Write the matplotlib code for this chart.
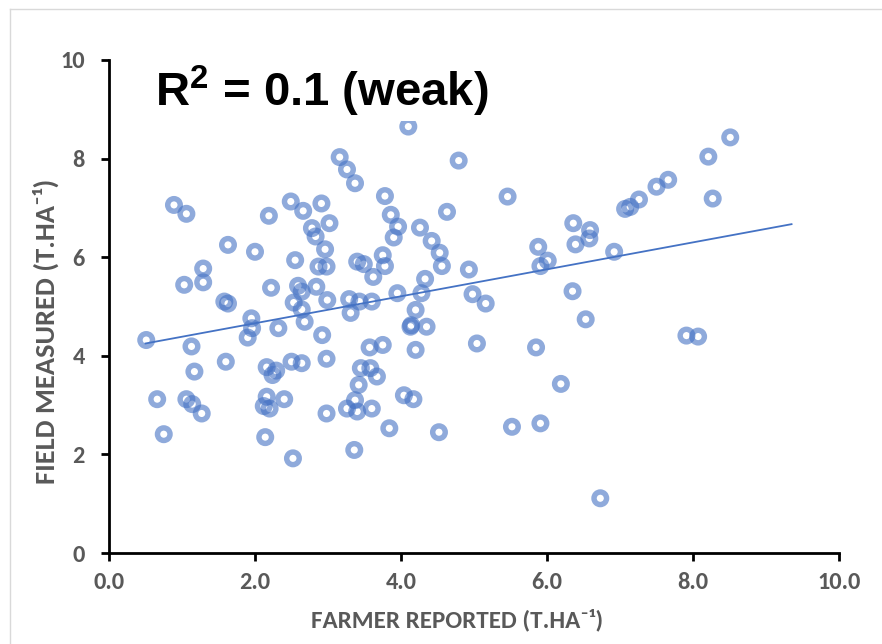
import matplotlib.pyplot as plt
from matplotlib.lines import Line2D

# farmer reported yield (t/ha) vs field measured yield (t/ha)
farmer_reported = [
    3.16, 3.26, 3.37, 0.89, 1.06, 2.49, 2.66, 2.91, 2.19, 3.02,
    2.78, 2.83, 2.96, 1.63, 2.00, 2.55, 2.87, 2.98, 1.29, 1.03,
    1.29, 2.22, 2.59, 2.64, 2.84, 2.53, 2.64, 1.58, 1.63, 2.99,
    3.29, 3.31, 1.95, 0.51, 1.96, 1.90, 2.32, 2.68, 2.92, 1.13,
    1.60, 1.17, 2.16, 2.29, 2.24, 2.50, 2.64, 2.98, 3.45, 3.42,
    0.66, 1.06, 1.14, 1.27, 2.16, 2.12, 2.20, 2.40, 2.98, 3.26,
    3.37, 3.40, 0.75, 2.14, 2.52, 3.36, 4.10, 4.79, 5.46, 3.78,
    4.63, 3.86, 3.96, 3.90, 4.26, 4.42, 4.53, 4.56, 4.93, 3.40,
    3.49, 3.75, 3.78, 3.62, 6.36, 6.59, 6.58, 6.39, 5.88, 6.01,
    5.91, 6.35, 6.53, 4.33, 4.28, 3.95, 3.60, 3.43, 4.98, 5.16,
    4.20, 4.14, 4.35, 4.13, 4.20, 5.04, 5.85, 3.57, 3.75, 3.58,
    3.67, 4.04, 4.17, 6.19, 3.84, 4.52, 5.52, 5.91, 6.73, 8.51,
    8.21, 8.27, 7.66, 7.50, 7.26, 7.14, 7.07, 6.92, 7.91, 8.07,
    3.60,
]
field_measured = [
    8.03, 7.78, 7.50, 7.06, 6.88, 7.13, 6.94, 7.09, 6.84, 6.69,
    6.59, 6.42, 6.16, 6.25, 6.11, 5.94, 5.81, 5.81, 5.77, 5.44,
    5.49, 5.38, 5.42, 5.30, 5.40, 5.08, 4.94, 5.10, 5.06, 5.13,
    5.15, 4.87, 4.76, 4.32, 4.56, 4.37, 4.56, 4.69, 4.42, 4.19,
    3.88, 3.68, 3.77, 3.70, 3.61, 3.88, 3.85, 3.94, 3.75, 3.41,
    3.12, 3.12, 3.02, 2.83, 3.17, 2.98, 2.93, 3.12, 2.83, 2.93,
    3.10, 2.87, 2.41, 2.35, 1.92, 2.09, 8.65, 7.96, 7.23, 7.24,
    6.92, 6.86, 6.62, 6.40, 6.60, 6.33, 6.09, 5.82, 5.75, 5.91,
    5.86, 6.04, 5.82, 5.60, 6.69, 6.55, 6.38, 6.26, 6.21, 5.93,
    5.82, 5.31, 4.74, 5.56, 5.27, 5.27, 5.10, 5.10, 5.25, 5.06,
    4.93, 4.62, 4.59, 4.59, 4.12, 4.25, 4.17, 4.17, 4.22, 3.75,
    3.58, 3.20, 3.12, 3.43, 2.53, 2.45, 2.56, 2.63, 1.11, 8.43,
    8.04, 7.19, 7.57, 7.43, 7.17, 7.02, 6.98, 6.11, 4.41, 4.39,
    2.93,
]

# linear trendline end points as drawn
trend_x = [0.5, 9.35]
trend_y = [4.25, 6.67]

x_ticks = [0, 2, 4, 6, 8, 10]
x_tick_labels = ["0.0", "2.0", "4.0", "6.0", "8.0", "10.0"]
y_ticks = [0, 2, 4, 6, 8, 10]
y_tick_labels = ["0", "2", "4", "6", "8", "10"]

BLUE = "#4472C4"
GREY = "#595959"
LABEL_FONT = ["Carlito", "Noto Sans", "DejaVu Sans"]

plt.rcParams["mathtext.fontset"] = "custom"
plt.rcParams["mathtext.bf"] = "Liberation Sans:bold"
plt.rcParams["mathtext.rm"] = "Liberation Sans"

fig = plt.figure(figsize=(8.82, 6.44), dpi=100)
ax = fig.add_axes([109 / 882, 91 / 644, 730 / 882, 493 / 644])

ax.scatter(farmer_reported, field_measured, s=82, facecolors="none",
           edgecolors=BLUE, linewidths=3.9, alpha=0.6, zorder=3)
ax.plot(trend_x, trend_y, color=BLUE, linewidth=1.3, zorder=4)

ax.set_xlim(0, 10)
ax.set_ylim(0, 10)
ax.set_xticks(x_ticks)
ax.set_xticklabels(x_tick_labels)
ax.set_yticks(y_ticks)
ax.set_yticklabels(y_tick_labels)

for side in ("top", "right"):
    ax.spines[side].set_visible(False)
for side in ("left", "bottom"):
    ax.spines[side].set_linewidth(2.0)
    ax.spines[side].set_color("black")

ax.tick_params(axis="both", direction="out", length=5.5, width=2.0,
               colors="black", labelcolor=GREY, labelsize=17.5)
ax.tick_params(axis="x", pad=8)
ax.tick_params(axis="y", pad=12)
for label in ax.get_xticklabels() + ax.get_yticklabels():
    label.set_family(LABEL_FONT)
    label.set_fontweight("bold")

ax.set_xlabel("FARMER REPORTED (T.HA\u207b\u00b9)", family=LABEL_FONT,
              fontsize=18, fontweight="bold", color=GREY)
ax.set_ylabel("FIELD MEASURED (T.HA\u207b\u00b9)", family=LABEL_FONT,
              fontsize=20.5, fontweight="bold", color=GREY)
ax.xaxis.set_label_coords(0.477, -0.113)
ax.yaxis.set_label_coords(-0.068, 0.45)

ax.text(0.063, 0.905, "R$^{\\mathbf{2}}$ = 0.1 (weak)", transform=ax.transAxes,
        family=["Liberation Sans", "DejaVu Sans"],
        fontsize=34, fontweight="bold", color="black", va="baseline", ha="left",
        zorder=5, bbox=dict(facecolor="white", edgecolor="none", pad=1))

# light frame around the chart area
fig.add_artist(Line2D([10 / 882, 10 / 882], [0, 1 - 9 / 644],
                      transform=fig.transFigure, color="#d9d9d9", linewidth=1))
fig.add_artist(Line2D([10 / 882, 1], [1 - 9 / 644, 1 - 9 / 644],
                      transform=fig.transFigure, color="#d9d9d9", linewidth=1))

fig.savefig("out.png", dpi=100)
